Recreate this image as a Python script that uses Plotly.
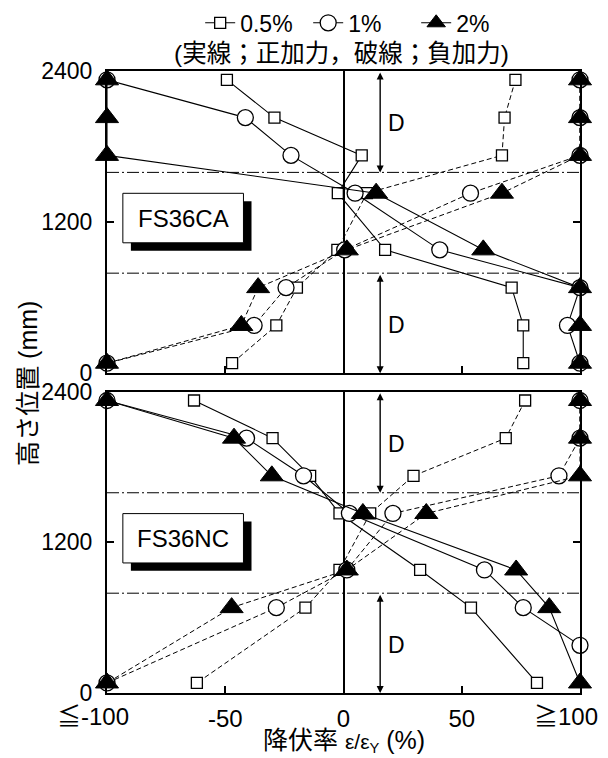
import plotly.graph_objects as go

# ---------------- data ----------------
heights = [2330, 2030, 1730, 1430, 980, 680, 380, 80]
levels = ["0.5%", "1%", "2%"]

# FS36CA (top panel): solid = positive loading, dashed = negative loading
ca_pos = {
    "0.5%": [-49.3, -29.2, 7.7, -2.4, 17.6, 71.1, 76.0, 76.0],
    "1%":   [-100, -41.5, -22.2, 4.9, 40.7, 100, 94.7, 100],
    "2%":   [-100, -100, -100, 13.8, 59.1, 100, 100, 100],
}
ca_neg = {
    "0.5%": [72.7, 68.1, 67.0, 9.9, -2.6, -19.7, -28.4, -47.1],
    "1%":   [100, 100, 100, 53.7, 0.5, -24.3, -37.8, -100],
    "2%":   [100, 100, 100, 67.0, 1.4, -36.1, -43.2, -100],
}
# FS36NC (bottom panel)
nc_pos = {
    "0.5%": [-63.2, -30.0, -14.1, -1.7, 32.4, 53.9, None, 81.8],
    "1%":   [-100, -41.0, -16.9, 2.5, 59.6, 76.0, 100, None],
    "2%":   [-100, -46.3, -30.3, 8.2, 73.0, 87.0, None, 100],
}
nc_neg = {
    "0.5%": [76.8, 68.6, 29.6, 11.3, -1.7, -16.1, None, -62.0],
    "1%":   [100, 100, 91.1, 20.9, 1.4, -28.4, None, -100],
    "2%":   [100, 100, 100, 35.0, 1.4, -47.3, None, -100],
}

x_tickvals = [-100, -50, 0, 50, 100]
x_ticktext = ["", "-50", "0", "50", ""]
x_edge_labels = [(-100, "≦-100"), (100, "≧100")]
y_tickvals = [0, 1200, 2400]
zone_lines = [1595, 795]
panel_names = ["FS36CA", "FS36NC"]

FONT = "Liberation Sans, Arial, Noto Sans CJK JP, sans-serif"

marker_style = {
    "0.5%": dict(symbol="square", size=11, color="white", line=dict(color="black", width=1.3)),
    "1%":   dict(symbol="circle", size=16, color="white", line=dict(color="black", width=1.3)),
    "2%":   dict(symbol="triangle-up", size=20, color="black", line=dict(color="black", width=1)),
}

fig = go.Figure()

panels = [("x", "y", ca_pos, ca_neg), ("x2", "y2", nc_pos, nc_neg)]
for pi, (xa, ya, pos, neg) in enumerate(panels):
    for lv in levels:
        fig.add_trace(go.Scatter(
            x=neg[lv], y=heights, xaxis=xa, yaxis=ya, mode="lines+markers",
            line=dict(color="black", width=1, dash="5px,3px"),
            marker=marker_style[lv], connectgaps=True, cliponaxis=False,
            showlegend=False, name=lv))
        fig.add_trace(go.Scatter(
            x=pos[lv], y=heights, xaxis=xa, yaxis=ya, mode="lines+markers",
            line=dict(color="black", width=1.1),
            marker=marker_style[lv], connectgaps=True, cliponaxis=False,
            showlegend=(pi == 0), name=lv))

axis_common = dict(showline=True, linewidth=2, linecolor="black", showgrid=False,
                   ticks="inside", ticklen=7, tickwidth=1.5, tickcolor="black",
                   automargin=False)
xfont = dict(family=FONT, size=24, color="black")
yfont = dict(family=FONT, size=23, color="black")

fig.update_layout(
    width=608, height=758,
    margin=dict(l=107, r=28, t=71, b=65, autoexpand=False),
    plot_bgcolor="white", paper_bgcolor="white",
    font=dict(family=FONT, color="black"),
    xaxis=dict(domain=[0, 1], anchor="y", range=[-100, 100], tickvals=x_tickvals,
               showticklabels=False, mirror=True, zeroline=True, zerolinewidth=2,
               zerolinecolor="black", tickfont=xfont, **axis_common),
    yaxis=dict(domain=[0.514, 1], anchor="x", range=[0, 2400], tickvals=y_tickvals,
               mirror="ticks", zeroline=False, ticklabelstandoff=8, tickfont=yfont,
               **axis_common),
    xaxis2=dict(domain=[0, 1], anchor="y2", range=[-100, 100], tickvals=x_tickvals,
                ticktext=x_ticktext, mirror=True, zeroline=True, zerolinewidth=2,
                zerolinecolor="black", ticklabelstandoff=3, tickfont=xfont,
                ticklabeloverflow="allow", **axis_common),
    yaxis2=dict(domain=[0, 0.4844], anchor="x2", range=[0, 2400], tickvals=y_tickvals,
                mirror="ticks", zeroline=False, ticklabelstandoff=8, tickfont=yfont,
                **axis_common),
    legend=dict(orientation="h", x=0.197, xanchor="left", y=1.112, yanchor="top",
                font=dict(family=FONT, size=23, color="black"), bgcolor="rgba(0,0,0,0)",
                itemwidth=30, tracegroupgap=0, entrywidth=63, entrywidthmode="pixels"),
)

shapes = []
annotations = []
for pi, (xa, ya) in enumerate([("x", "y"), ("x2", "y2")]):
    for yl in zone_lines:
        shapes.append(dict(type="line", xref=xa, yref=ya, x0=-100, x1=100, y0=yl, y1=yl,
                           line=dict(color="black", width=1, dash="12px,3px,2px,3px"),
                           layer="below"))
    # label box with drop shadow
    shapes.append(dict(type="rect", xref=xa, yref=ya, x0=-89.9, x1=-38.9, y0=973, y1=1366,
                       fillcolor="black", line=dict(width=0), layer="above"))
    shapes.append(dict(type="rect", xref=xa, yref=ya, x0=-93.3, x1=-42.3, y0=1036, y1=1429,
                       fillcolor="white", line=dict(color="black", width=1), layer="above"))
    annotations.append(dict(x=-67.8, y=1232, xref=xa, yref=ya, text=panel_names[pi],
                            xanchor="center", yanchor="middle",
                            showarrow=False, font=dict(family=FONT, size=24, color="black")))
    # D arrows
    for (ytop, ybot, ylab) in [(2400, 1595, 1985), (795, 0, 385)]:
        annotations.append(dict(x=15.5, y=ybot, ax=15.5, ay=ytop, xref=xa, yref=ya,
                                axref=xa, ayref=ya, text="", showarrow=True,
                                arrowhead=2, startarrowhead=2, arrowside="end+start",
                                arrowsize=1, arrowwidth=1.4, arrowcolor="black",
                                standoff=0, startstandoff=0))
        annotations.append(dict(x=17.8, y=ylab, xref=xa, yref=ya, text="D", xanchor="left",
                                yanchor="middle", showarrow=False,
                                font=dict(family=FONT, size=23, color="black")))

# end tick labels: the number is centred on the tick, the ≦/≧ sign hangs to the left
for xv, txt in x_edge_labels:
    annotations.append(dict(x=xv, y=0, xref="x2", yref="y2", text=txt, showarrow=False,
                            xanchor="right", yanchor="top", xshift=20 if xv > 0 else 24,
                            yshift=-8, font=xfont))

annotations.append(dict(x=0.495, y=1.028, xref="paper", yref="paper",
                        text="(実線；正加力，破線；負加力)", showarrow=False,
                        xanchor="center", yanchor="middle",
                        font=dict(family=FONT, size=24.5, color="black")))
annotations.append(dict(x=-0.167, y=0.497, xref="paper", yref="paper",
                        text="高さ位置 (mm)", textangle=-90, showarrow=False,
                        xanchor="center", yanchor="middle",
                        font=dict(family=FONT, size=25, color="black")))
annotations.append(dict(x=0.5, y=-0.0765, xref="paper", yref="paper",
                        text="降伏率 <span style='font-size:21px'>ε/ε<sub>Y</sub></span> (%)",
                        xanchor="center", yanchor="middle",
                        showarrow=False, font=dict(family=FONT, size=25, color="black")))

fig.update_layout(shapes=shapes, annotations=annotations)
fig.write_html("out.html")
